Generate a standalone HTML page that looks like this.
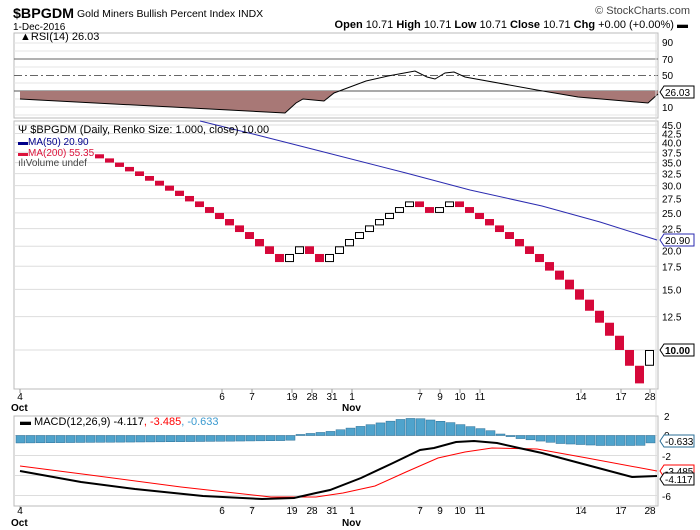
<!DOCTYPE html>
<html><head><meta charset="utf-8"><style>
body{margin:0;background:#fff;}
svg{display:block;font-family:"Liberation Sans",sans-serif;}
</style></head><body>
<svg id="s" width="700" height="530" viewBox="0 0 700 530" xmlns="http://www.w3.org/2000/svg">
<rect width="700" height="530" fill="#fff"/>
<text x="13" y="18" font-size="14" font-weight="bold" fill="#000" textLength="61" lengthAdjust="spacingAndGlyphs">$BPGDM</text>
<text x="77" y="17" font-size="10.5" fill="#000">Gold Miners Bullish Percent Index  INDX</text>
<text x="13" y="30" font-size="10" fill="#000">1-Dec-2016</text>
<text x="690" y="14" font-size="11" fill="#444" text-anchor="end">© StockCharts.com</text>
<text x="688" y="28" font-size="11" fill="#000" text-anchor="end"><tspan font-weight="bold">Open</tspan> 10.71 <tspan font-weight="bold">High</tspan> 10.71 <tspan font-weight="bold">Low</tspan> 10.71 <tspan font-weight="bold">Close</tspan> 10.71 <tspan font-weight="bold">Chg</tspan> +0.00 (+0.00%) ▬</text>
<g id="g"></g>
<text x="20" y="40" font-size="11" fill="#000">▲RSI(14) 26.03</text>
<g font-size="10" fill="#000">
<text x="662" y="46">90</text><text x="662" y="63">70</text><text x="662" y="79">50</text><text x="662" y="111">10</text>
</g>
<text x="18" y="133" font-size="11" fill="#000">Ψ $BPGDM (Daily, Renko Size: 1.000, close) 10.00</text>
<text x="18" y="145" font-size="10" fill="#00008b">▬MA(50) 20.90</text>
<text x="18" y="156" font-size="10" fill="#dc143c">▬MA(200) 55.35</text>
<text x="18" y="166" font-size="10" fill="#444">ılıVolume undef</text>
<g id="pl" font-size="10" fill="#000"></g>
<g font-size="10" fill="#000">
<text x="20" y="400" text-anchor="middle">4</text>
<text x="222" y="400" text-anchor="middle">6</text>
<text x="252" y="400" text-anchor="middle">7</text>
<text x="292" y="400" text-anchor="middle">19</text>
<text x="312" y="400" text-anchor="middle">28</text>
<text x="332" y="400" text-anchor="middle">31</text>
<text x="352" y="400" text-anchor="middle">1</text>
<text x="420" y="400" text-anchor="middle">7</text>
<text x="440" y="400" text-anchor="middle">9</text>
<text x="460" y="400" text-anchor="middle">10</text>
<text x="480" y="400" text-anchor="middle">11</text>
<text x="581" y="400" text-anchor="middle">14</text>
<text x="621" y="400" text-anchor="middle">17</text>
<text x="650" y="400" text-anchor="middle">28</text>
<text x="11" y="411" font-weight="bold">Oct</text>
<text x="342" y="411" font-weight="bold">Nov</text>
<text x="20" y="514" text-anchor="middle">4</text>
<text x="222" y="514" text-anchor="middle">6</text>
<text x="252" y="514" text-anchor="middle">7</text>
<text x="292" y="514" text-anchor="middle">19</text>
<text x="312" y="514" text-anchor="middle">28</text>
<text x="332" y="514" text-anchor="middle">31</text>
<text x="352" y="514" text-anchor="middle">1</text>
<text x="420" y="514" text-anchor="middle">7</text>
<text x="440" y="514" text-anchor="middle">9</text>
<text x="460" y="514" text-anchor="middle">10</text>
<text x="480" y="514" text-anchor="middle">11</text>
<text x="581" y="514" text-anchor="middle">14</text>
<text x="621" y="514" text-anchor="middle">17</text>
<text x="650" y="514" text-anchor="middle">28</text>
<text x="11" y="526" font-weight="bold">Oct</text>
<text x="342" y="526" font-weight="bold">Nov</text>
</g>
<text x="20" y="425" font-size="11" fill="#000">▬ MACD(12,26,9) -4.117<tspan fill="#f00">, -3.485</tspan><tspan fill="#3a9ad0">, -0.633</tspan></text>
<g font-size="10" fill="#000">
<text x="664" y="420">2</text><text x="664" y="439">0</text><text x="662" y="460">-2</text><text x="662" y="500">-6</text>
</g>
<g id="lab" font-size="10"></g>
</svg>
<script>
var NS="http://www.w3.org/2000/svg",g=document.getElementById("g");
function el(t,a,p){var e=document.createElementNS(NS,t);for(var k in a)e.setAttribute(k,a[k]);(p||g).appendChild(e);return e;}
function pts(a){return a.map(function(p){return p[0]+","+p[1]}).join(" ");}
var L=14,R=658;
el("rect",{x:L,y:33,width:R-L,height:85,fill:"none",stroke:"#bbb"});
[43,51,67,83,99,107,115].forEach(function(y){el("line",{x1:L,x2:R,y1:y,y2:y,stroke:"#e4e4e4"});});
el("line",{x1:L,x2:R,y1:59,y2:59,stroke:"#666"});
el("line",{x1:L,x2:R,y1:75.5,y2:75.5,stroke:"#666","stroke-dasharray":"8,3,2,3"});
el("line",{x1:L,x2:R,y1:91,y2:91,stroke:"#555"});
var rsi=[[20,99],[285,113],[296,103],[303,99],[324,101],[334,93],[366,81],[388,76],[415,71],[427,77],[435,79],[445,73],[454,72],[465,77],[537,90],[578,97],[648,103],[658,94]];
var cp=el("clipPath",{id:"c1"});el("rect",{x:0,y:91,width:700,height:40},cp);
el("polygon",{points:"20,91 "+pts(rsi)+" 658,91",fill:"#a87876","clip-path":"url(#c1)"});
el("polyline",{points:pts(rsi),fill:"none",stroke:"#000","stroke-width":1});
el("rect",{x:L,y:121,width:R-L,height:268,fill:"none",stroke:"#bbb"});
function py(v){return 350-149.6*Math.log(v/10);}
var pl=document.getElementById("pl");
[45,42.5,40,37.5,35,32.5,30,27.5,25,22.5,20,17.5,15,12.5,10].forEach(function(v){var y=py(v);el("line",{x1:L,x2:R,y1:y,y2:y,stroke:"#ddd"});
 if(v!=10&&v!=20){var t=el("text",{x:662,y:y+4},pl);t.textContent=v.toFixed(1);}});
var t=el("text",{x:662,y:py(20)+8},pl);t.textContent="20.0";
[20,222,252,292,312,332,352,420,440,460,480,581,621,650].forEach(function(x){el("line",{x1:x,x2:x,y1:389,y2:393,stroke:"#999"});el("line",{x1:x,x2:x,y1:506,y2:509,stroke:"#999"});});
el("line",{x1:656,x2:656,y1:33,y2:506,stroke:"#ddd"});
el("polyline",{points:"200,121 257,135 316,150 406,173 470,190 542,206 600,222 657,240",fill:"none",stroke:"#2b2bb0","stroke-width":1});
var seq=[];var v=37,x=100;
function add(n,d){for(var i=0;i<n;i++){var a=v,b=v+d;seq.push([x,Math.max(a,b),Math.min(a,b),d>0]);v=b;x+=10;}}
add(19,-1);add(2,1);add(2,-1);add(9,1);add(2,-1);add(2,1);add(19,-1);
seq.forEach(function(s){var y1=py(s[1]),y2=py(s[2]);
 if(s[3])el("rect",{x:s[0]-4.5,y:y1+0.5,width:8,height:y2-y1-1,fill:"#fff",stroke:"#000"});
 else el("rect",{x:s[0]-5,y:y1,width:9,height:y2-y1,fill:"#d6083a"});});
el("rect",{x:645.5,y:py(10)+0.5,width:8,height:py(9)-py(10)-1,fill:"#fff",stroke:"#000"});
el("rect",{x:L,y:416,width:R-L,height:90,fill:"none",stroke:"#bbb"});
[415.5,435.5,455.5,475.5,495.5].forEach(function(y){el("line",{x1:L,x2:R,y1:y,y2:y,stroke:"#ddd"});});
function interp(p,x){for(var i=0;i<p.length-1;i++){if(x<=p[i+1][0]){var f=(x-p[i][0])/(p[i+1][0]-p[i][0]);return p[i][1]+f*(p[i+1][1]-p[i][1]);}}return p[p.length-1][1];}
var hp=[[16,-0.75],[200,-0.6],[290,-0.5],[300,0.1],[330,0.4],[360,0.9],[400,1.6],[415,1.75],[450,1.3],[490,0.5],[505,0],[520,-0.3],[560,-0.8],[600,-1.0],[640,-1.0],[655,-0.63]];
for(var i=0;i<64;i++){var bx=16+10*i,h=interp(hp,bx+4.5),y0=435.5,y1=435.5-10*h;
 el("rect",{x:bx,y:Math.min(y0,y1),width:9,height:Math.max(Math.abs(y1-y0),1),fill:"#4fa3cc",stroke:"#2a6d95","stroke-width":0.5});}
el("polyline",{points:"20,466 90,475 181,487 271,497 316,497 343,493 375,486 406,472 438,458 465,452 492,448 537,449 587,458 657,471",fill:"none",stroke:"#f00","stroke-width":1});
el("polyline",{points:"20,471 81,482 135,489 203,496 262,499 294,498 316,493 330,490 361,478 393,463 420,450 434,448 456,442 474,441 497,443 519,448 542,453 587,465 632,477 657,476",fill:"none",stroke:"#000","stroke-width":2});
var lab=document.getElementById("lab");
function tag(y,txt,col,bold){el("path",{d:"M660,"+y+" l4,-6 h30 v12 h-30 z",fill:"#fff",stroke:col},lab);var t=el("text",{x:665,y:y+4,fill:"#000","font-weight":bold?"bold":"normal"},lab);t.textContent=txt;}
tag(92,"26.03","#000");
tag(240,"20.90","#2b2bb0");
tag(350,"10.00","#000",true);
tag(441,"-0.633","#2a6d95");
tag(471,"-3.485","#f00");
tag(479,"-4.117","#000");
</script>
</body></html>
